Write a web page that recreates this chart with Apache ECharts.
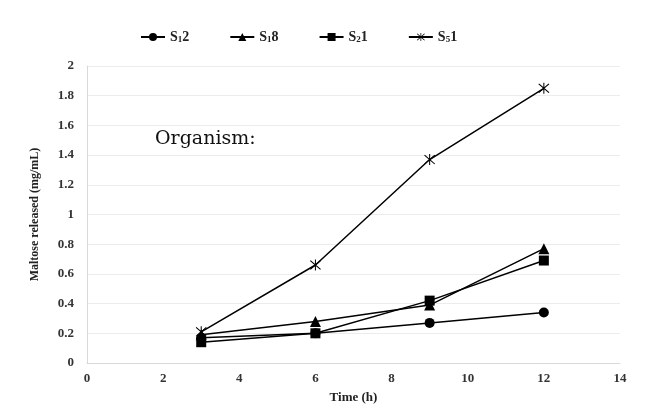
<!DOCTYPE html>
<html>
<head>
<meta charset="utf-8">
<script src="https://cdn.jsdelivr.net/npm/echarts@6/dist/echarts.min.js"></script>
<style>
  html, body { margin: 0; padding: 0; background: #fff; }
  #chart { width: 667px; height: 411px; }
</style>
</head>
<body>
<div id="chart"></div>
<script>
// time points (h) and maltose released (mg/mL) per organism
const times = [3, 6, 9, 12];
const s12 = [0.17, 0.20, 0.27, 0.34];
const s18 = [0.19, 0.28, 0.39, 0.77];
const s21 = [0.14, 0.20, 0.42, 0.69];
const s51 = [0.21, 0.66, 1.37, 1.85];

// legend labels split as [main, subscript, tail]
const seriesNames = ['S12', 'S18', 'S21', 'S51'];
const legendParts = {
  S12: ['S', '1', '2'],
  S18: ['S', '1', '8'],
  S21: ['S', '2', '1'],
  S51: ['S', '5', '1']
};

// asterisk marker built from three thin bars
const asterisk = 'path://M4.6 0 L5.4 0 L5.4 10 L4.6 10 Z ' +
  'M1.3 0.7 L9.3 8.7 L8.7 9.3 L0.7 1.3 Z ' +
  'M8.7 0.7 L9.3 1.3 L1.3 9.3 L0.7 8.7 Z';

const pair = arr => times.map((t, i) => [t, arr[i]]);

const serif = 'Liberation Serif';

function line(name, data, symbol, size) {
  return {
    name,
    type: 'line',
    data: pair(data),
    symbol,
    symbolSize: size,
    lineStyle: { color: '#000', width: 1.5 },
    itemStyle: { color: '#000' },
    emphasis: { disabled: true }
  };
}

const chart = echarts.init(document.getElementById('chart'), null, { renderer: 'canvas' });

chart.setOption({
  animation: false,
  backgroundColor: '#fff',
  grid: { left: 87, right: 47, top: 66, bottom: 48 },
  legend: {
    data: seriesNames,
    top: 25,
    left: 135,
    itemWidth: 24,
    itemHeight: 10,
    itemGap: 40,
    formatter: n => {
      const p = legendParts[n];
      return '{b|' + p[0] + '}{s|' + p[1] + '}{b|' + p[2] + '}';
    },
    textStyle: {
      rich: {
        b: { fontFamily: serif, fontWeight: 'bold', fontSize: 14, color: '#222' },
        s: { fontFamily: serif, fontWeight: 'bold', fontSize: 9, color: '#222', verticalAlign: 'bottom', padding: [6, 0, 0, 0] }
      }
    }
  },
  xAxis: {
    type: 'value',
    min: 0,
    max: 14,
    interval: 2,
    name: 'Time (h)',
    nameLocation: 'middle',
    nameGap: 28,
    nameTextStyle: { fontFamily: serif, fontWeight: 'bold', fontSize: 13, color: '#222' },
    axisLine: { show: true, lineStyle: { color: '#d9d9d9' } },
    axisTick: { show: false },
    splitLine: { show: false },
    axisLabel: { fontFamily: serif, fontWeight: 'bold', fontSize: 13, color: '#333', margin: 9 }
  },
  yAxis: {
    type: 'value',
    min: 0,
    max: 2,
    interval: 0.2,
    name: 'Maltose released (mg/mL)',
    nameLocation: 'middle',
    nameGap: 46,
    nameTextStyle: { fontFamily: serif, fontWeight: 'bold', fontSize: 12, color: '#222' },
    axisLine: { show: true, lineStyle: { color: '#d9d9d9' } },
    axisTick: { show: false },
    splitLine: { show: true, lineStyle: { color: '#ececec' } },
    axisLabel: {
      fontFamily: serif, fontWeight: 'bold', fontSize: 13, color: '#333', margin: 13,
      formatter: v => String(Math.round(v * 10) / 10)
    }
  },
  graphic: [{
    type: 'text',
    left: 155,
    top: 130,
    style: { text: 'Organism:', fontFamily: 'DejaVu Serif', fontSize: 19, fill: '#111' }
  }],
  series: [
    line('S12', s12, 'circle', 10),
    line('S18', s18, 'triangle', 11),
    line('S21', s21, 'rect', 10),
    line('S51', s51, asterisk, 11)
  ]
});
</script>
</body>
</html>
